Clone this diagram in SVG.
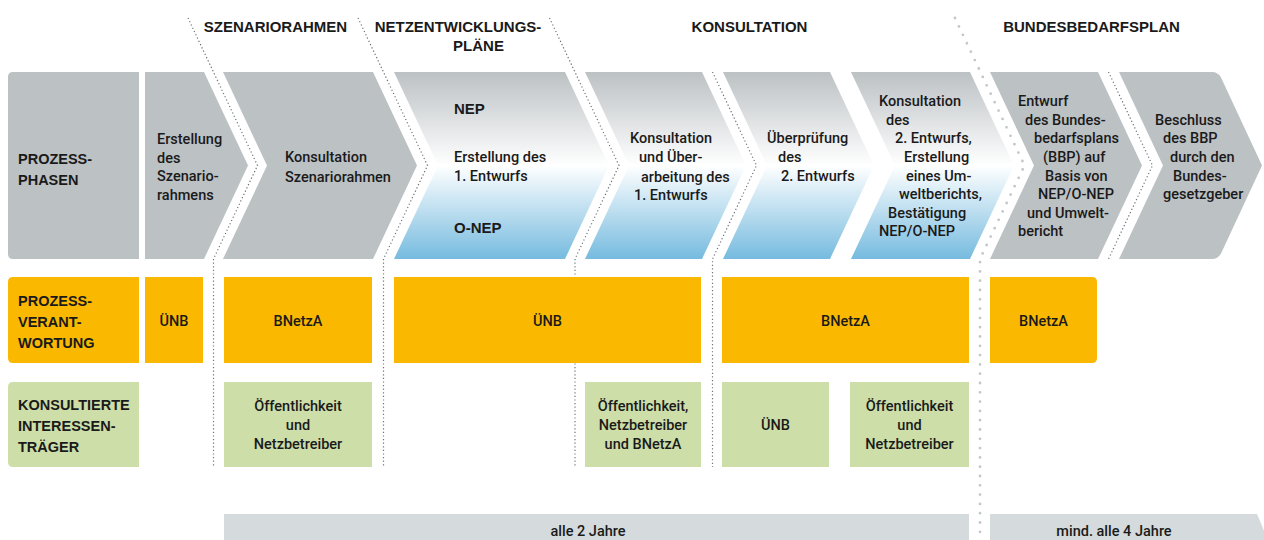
<svg xmlns="http://www.w3.org/2000/svg" width="1264" height="540" viewBox="0 0 1264 540">
<defs>
<linearGradient id="blueGrad" gradientUnits="userSpaceOnUse" x1="0" y1="72" x2="0" y2="259">
<stop offset="0" stop-color="#bcc1c4"/>
<stop offset="0.5" stop-color="#ffffff"/>
<stop offset="1" stop-color="#76bbdf"/>
</linearGradient>
<style>
.gray{fill:#bcc1c4}
.blue{fill:url(#blueGrad)}
.orange{fill:#fab900}
.green{fill:#cddea8}
.bar{fill:#d5dadc}
text{font-family:"Liberation Sans",Arial,sans-serif;fill:#1a1a1a}
.hd{font-size:15px;font-weight:bold;text-anchor:middle}
.lb{font-size:14.5px;font-weight:bold}
.tx{font-family:Roboto,"Liberation Sans",Arial,sans-serif;font-size:14.5px;font-weight:500}
.c{text-anchor:middle}
.b{font-weight:bold;font-size:15px}
.dots{fill:none;stroke:#6f7274;stroke-width:1.2;stroke-dasharray:1.2 2.4}
.bigdots{fill:none;stroke:#c3c7ca;stroke-width:2.8;stroke-linecap:round;stroke-dasharray:0 9.3}
</style>
</defs>
<rect width="1264" height="540" fill="#ffffff"/>

<g id="headers">
<text class="hd" x="275.5" y="31.5">SZENARIORAHMEN</text>
<text class="hd" x="458" y="31.5">NETZENTWICKLUNGS-</text>
<text class="hd" x="478.5" y="51">PLÄNE</text>
<text class="hd" x="749.5" y="31.5">KONSULTATION</text>
<text class="hd" x="1091.5" y="31.5">BUNDESBEDARFSPLAN</text>
</g>

<g id="connectors">
<path class="dots" d="M188,18 L257.5,165.5 L213.5,259 V467"/>
<path class="dots" d="M358,18 L427.5,165.5 L383.5,259 V467"/>
<path class="dots" d="M549.5,18 L619,165.5 L575,259 V467"/>
<path class="dots" d="M712.5,72 L756.5,165.5 L712.5,259 V467"/>
<path class="bigdots" d="M955,18 L1024.5,165.5 L980,259 V540"/>
<path class="dots" d="M1108.5,72 L1152.5,165.5 L1108.5,259"/>
</g>

<g id="phase-label">
<path class="gray" d="M13,72 H139 V259 H13 Q8,259 8,254 V77 Q8,72 13,72 Z"/>
<text class="lb" x="18" y="163.5">PROZESS-</text>
<text class="lb" x="18" y="184.5">PHASEN</text>
</g>

<g id="p1-erstellung-szenariorahmen">
<path class="gray" d="M145,72 H204 L248,165.5 L204,259 H145 Z"/>
<text class="tx" x="157" y="144">Erstellung</text>
<text class="tx" x="157" y="162.5">des</text>
<text class="tx" x="157" y="181">Szenario-</text>
<text class="tx" x="157" y="199.5">rahmens</text>
</g>

<g id="p2-konsultation-szenariorahmen">
<path class="gray" d="M223,72 H373 L417,165.5 L373,259 H223 L267,165.5 Z"/>
<text class="tx" x="285" y="162.3">Konsultation</text>
<text class="tx" x="285" y="181.5">Szenariorahmen</text>
</g>

<g id="p3-nep">
<path class="blue" d="M394,72 H565 L609,165.5 L565,259 H394 L438,165.5 Z"/>
<text class="b" x="454" y="113.5">NEP</text>
<text class="tx" x="454" y="162.3">Erstellung des</text>
<text class="tx" x="454" y="181">1. Entwurfs</text>
<text class="b" x="454" y="233">O-NEP</text>
</g>

<g id="p4-konsultation-ueberarbeitung">
<path class="blue" d="M585,72 H702 L746,165.5 L702,259 H585 L629,165.5 Z"/>
<text class="tx" x="630" y="143">Konsultation</text>
<text class="tx" x="639" y="162.3">und Über-</text>
<text class="tx" x="641" y="181.5">arbeitung des</text>
<text class="tx" x="634" y="199.5">1. Entwurfs</text>
</g>

<g id="p5-ueberpruefung">
<path class="blue" d="M723,72 H830 L874,165.5 L830,259 H723 L767,165.5 Z"/>
<text class="tx" x="767" y="143">Überprüfung</text>
<text class="tx" x="778" y="162.3">des</text>
<text class="tx" x="781" y="181">2. Entwurfs</text>
</g>

<g id="p6-konsultation-2-entwurf">
<path class="blue" d="M851,72 H970 L1014,165.5 L970,259 H851 L895,165.5 Z"/>
<text class="tx" x="879" y="106">Konsultation</text>
<text class="tx" x="886" y="124.5">des</text>
<text class="tx" x="895" y="143">2. Entwurfs,</text>
<text class="tx" x="904" y="162">Erstellung</text>
<text class="tx" x="906" y="180.5">eines Um-</text>
<text class="tx" x="899" y="199">weltberichts,</text>
<text class="tx" x="888" y="217.5">Bestätigung</text>
<text class="tx" x="879" y="236">NEP/O-NEP</text>
</g>

<g id="p7-entwurf-bbp">
<path class="gray" d="M990,72 H1098 L1142,165.5 L1098,259 H990 L1034,165.5 Z"/>
<text class="tx" x="1018" y="106">Entwurf</text>
<text class="tx" x="1025" y="124.5">des Bundes-</text>
<text class="tx" x="1034" y="143">bedarfsplans</text>
<text class="tx" x="1043" y="162">(BBP) auf</text>
<text class="tx" x="1045" y="180.5">Basis von</text>
<text class="tx" x="1038" y="199">NEP/O-NEP</text>
<text class="tx" x="1027" y="217.5">und Umwelt-</text>
<text class="tx" x="1018" y="236">bericht</text>
</g>

<g id="p8-beschluss-bbp">
<path class="gray" d="M1119,72 H1212 Q1218,72 1221,77.5 L1262,165.5 L1221,253.5 Q1218,259 1212,259 H1119 L1163,165.5 Z"/>
<text class="tx" x="1155" y="124.5">Beschluss</text>
<text class="tx" x="1163" y="143">des BBP</text>
<text class="tx" x="1170" y="162">durch den</text>
<text class="tx" x="1173" y="180.5">Bundes-</text>
<text class="tx" x="1163" y="199">gesetzgeber</text>
</g>

<g id="responsibility-label">
<path class="orange" d="M13,277 H139 V363 H13 Q8,363 8,358 V282 Q8,277 13,277 Z"/>
<text class="lb" x="18" y="305.5">PROZESS-</text>
<text class="lb" x="18" y="326.5">VERANT-</text>
<text class="lb" x="18" y="347.5">WORTUNG</text>
</g>
<g id="r1-uenb">
<rect class="orange" x="145" y="277" width="58" height="86"/>
<text class="tx c" x="174" y="326">ÜNB</text>
</g>
<g id="r2-bnetza">
<rect class="orange" x="224" y="277" width="148" height="86"/>
<text class="tx c" x="298" y="326">BNetzA</text>
</g>
<g id="r3-uenb">
<rect class="orange" x="394" y="277" width="307" height="86"/>
<text class="tx c" x="547.5" y="326">ÜNB</text>
</g>
<g id="r4-bnetza">
<rect class="orange" x="722" y="277" width="247" height="86"/>
<text class="tx c" x="845.5" y="326">BNetzA</text>
</g>
<g id="r5-bnetza">
<path class="orange" d="M990,277 H1092 Q1097,277 1097,282 V358 Q1097,363 1092,363 H990 Z"/>
<text class="tx c" x="1043.5" y="326">BNetzA</text>
</g>

<g id="stakeholder-label">
<path class="green" d="M13,382 H139 V467 H13 Q8,467 8,462 V387 Q8,382 13,382 Z"/>
<text class="lb" x="18" y="409.5">KONSULTIERTE</text>
<text class="lb" x="18" y="430.5">INTERESSEN-</text>
<text class="lb" x="18" y="451.5">TRÄGER</text>
</g>
<g id="s1-oeffentlichkeit-netzbetreiber">
<rect class="green" x="224" y="382" width="148" height="85"/>
<text class="tx c" x="298" y="411">Öffentlichkeit</text>
<text class="tx c" x="298" y="430">und</text>
<text class="tx c" x="298" y="449">Netzbetreiber</text>
</g>
<g id="s2-oeffentlichkeit-netzbetreiber-bnetza">
<rect class="green" x="585" y="382" width="116" height="85"/>
<text class="tx c" x="643" y="411">Öffentlichkeit,</text>
<text class="tx c" x="643" y="430">Netzbetreiber</text>
<text class="tx c" x="643" y="449">und BNetzA</text>
</g>
<g id="s3-uenb">
<rect class="green" x="722" y="382" width="107" height="85"/>
<text class="tx c" x="775.5" y="430">ÜNB</text>
</g>
<g id="s4-oeffentlichkeit-netzbetreiber">
<rect class="green" x="850" y="382" width="119" height="85"/>
<text class="tx c" x="909.5" y="411">Öffentlichkeit</text>
<text class="tx c" x="909.5" y="430">und</text>
<text class="tx c" x="909.5" y="449">Netzbetreiber</text>
</g>

<g id="cycle-2-years">
<rect class="bar" x="224" y="514" width="745" height="26"/>
<text class="tx c" x="588" y="536">alle 2 Jahre</text>
</g>
<g id="cycle-4-years">
<path class="bar" d="M990,514 H1257 L1268,540 H990 Z"/>
<text class="tx c" x="1114" y="536">mind. alle 4 Jahre</text>
</g>
</svg>
